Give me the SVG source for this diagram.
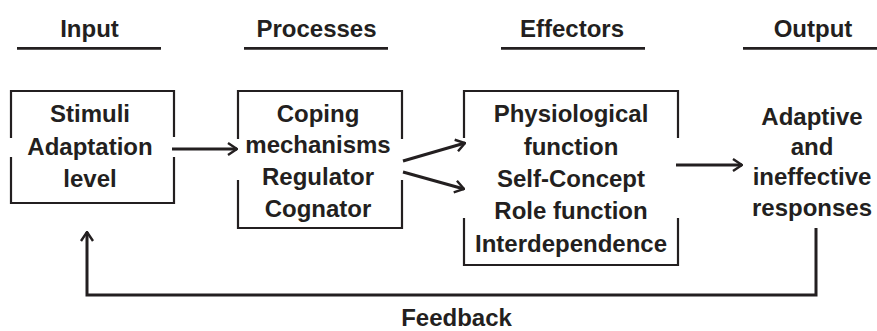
<svg xmlns="http://www.w3.org/2000/svg" width="877" height="331" viewBox="0 0 877 331">
  <style>
    text { font-family: "Liberation Sans", Arial, sans-serif; font-weight: bold; font-size: 24px; fill: #231f20; text-anchor: middle; }
    .rule { stroke: #231f20; stroke-width: 2.7; fill: none; }
    .box { stroke: #231f20; stroke-width: 2.2; fill: none; }
    .link { stroke: #231f20; stroke-width: 3; fill: none; }
  </style>
  <defs>
    <marker id="head" viewBox="0 0 11 14" refX="10" refY="7" markerWidth="11" markerHeight="14" markerUnits="userSpaceOnUse" orient="auto">
      <path d="M1,1 L10,7 L1,13" fill="none" stroke="#231f20" stroke-width="2.4"/>
    </marker>
  </defs>
  <rect width="877" height="331" fill="#ffffff"/>

  <!-- column headings -->
  <g id="headings">
    <text x="89.5" y="37">Input</text>
    <text x="316.5" y="37">Processes</text>
    <text x="572" y="37">Effectors</text>
    <text x="813" y="37">Output</text>
    <path class="rule" d="M17,48.3 H161 M244,48.3 H388 M501,48.3 H645 M743,48.3 H877"/>
  </g>

  <!-- input -->
  <g id="input">
    <path class="box" d="M11,138 V91 H174 V137 M174,157 V203 H11 V157"/>
    <text x="90" y="122">Stimuli</text>
    <text x="90" y="155">Adaptation</text>
    <text x="90" y="187">level</text>
  </g>

  <!-- processes -->
  <g id="processes">
    <path class="box" d="M238,139 V91 H402 V139 M402,180 V228 H238 V180"/>
    <text x="318" y="122">Coping</text>
    <text x="318" y="153">mechanisms</text>
    <text x="318" y="185">Regulator</text>
    <text x="318" y="217">Cognator</text>
  </g>

  <!-- effectors -->
  <g id="effectors">
    <path class="box" d="M464,138 V91 H678 V138 M678,218 V265 H464 V218"/>
    <text x="571" y="122">Physiological</text>
    <text x="571" y="155">function</text>
    <text x="571" y="187">Self-Concept</text>
    <text x="571" y="219">Role function</text>
    <text x="571" y="252">Interdependence</text>
  </g>

  <!-- output -->
  <g id="output">
    <text x="812" y="125">Adaptive</text>
    <text x="812" y="155">and</text>
    <text x="812" y="185">ineffective</text>
    <text x="812" y="216">responses</text>
  </g>

  <!-- feedback label -->
  <g id="feedback">
    <text x="456.5" y="326">Feedback</text>
  </g>

  <!-- connectors -->
  <g id="connectors">
    <path class="link" d="M172,149 H237" marker-end="url(#head)"/>
    <path class="link" d="M403,161 L465,143" marker-end="url(#head)"/>
    <path class="link" d="M403,172 L464,189" marker-end="url(#head)"/>
    <path class="link" d="M676,165 H742" marker-end="url(#head)"/>
    <path class="link" d="M816,228 V295 H87 V232" marker-end="url(#head)"/>
  </g>
</svg>
